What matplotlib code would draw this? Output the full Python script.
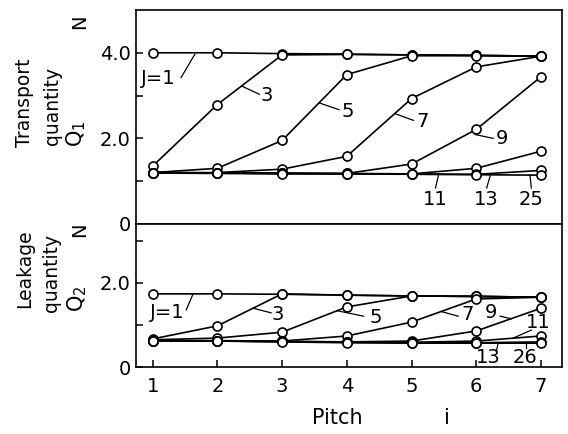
import matplotlib
matplotlib.use("Agg")
import matplotlib.pyplot as plt

plt.rcParams['font.family'] = ['DejaVu Sans']

pitch = [1, 2, 3, 4, 5, 6, 7]

# transport quantity Q1 (N) for each J
q1 = {
    '1':  [4.00, 4.00, 3.98, 3.97, 3.95, 3.94, 3.92],
    '3':  [1.35, 2.79, 3.95, 3.96, 3.95, 3.94, 3.92],
    '5':  [1.20, 1.30, 1.95, 3.49, 3.93, 3.93, 3.92],
    '7':  [1.20, 1.20, 1.28, 1.58, 2.93, 3.67, 3.92],
    '9':  [1.20, 1.19, 1.19, 1.18, 1.40, 2.21, 3.44],
    '11': [1.20, 1.19, 1.18, 1.18, 1.17, 1.30, 1.70],
    '13': [1.20, 1.19, 1.18, 1.17, 1.17, 1.16, 1.25],
    '25': [1.19, 1.18, 1.17, 1.17, 1.16, 1.15, 1.14],
}

# leakage quantity Q2 (N) for each J
q2 = {
    '1':  [1.74, 1.74, 1.73, 1.71, 1.69, 1.68, 1.66],
    '3':  [0.67, 0.98, 1.74, 1.71, 1.69, 1.68, 1.66],
    '5':  [0.65, 0.69, 0.83, 1.43, 1.69, 1.68, 1.66],
    '7':  [0.63, 0.63, 0.62, 0.74, 1.07, 1.62, 1.66],
    '9':  [0.63, 0.62, 0.61, 0.60, 0.62, 0.86, 1.40],
    '11': [0.63, 0.62, 0.61, 0.60, 0.59, 0.62, 0.74],
    '13': [0.63, 0.62, 0.61, 0.59, 0.58, 0.58, 0.60],
    '26': [0.63, 0.62, 0.60, 0.58, 0.57, 0.57, 0.57],
}

# label text, text position, leader start on curve, leader end near text
q1_labels = [
    ('J=1', (1.08, 3.40), (1.65, 3.96), (1.44, 3.42)),
    ('3',   (2.77, 3.00), (2.38, 3.22), (2.65, 3.03)),
    ('5',   (4.02, 2.63), (3.57, 2.83), (3.88, 2.67)),
    ('7',   (5.17, 2.40), (4.74, 2.58), (5.03, 2.42)),
    ('9',   (6.40, 2.00), (5.98, 2.09), (6.26, 2.00)),
    ('11',  (5.37, 0.58), (5.42, 1.17), (5.37, 0.84)),
    ('13',  (6.15, 0.58), (6.22, 1.15), (6.16, 0.84)),
    ('25',  (6.85, 0.58), (6.83, 1.14), (6.85, 0.84)),
]
q2_labels = [
    ('J=1', (1.22, 1.29), (1.62, 1.72), (1.52, 1.36)),
    ('3',   (2.94, 1.24), (2.55, 1.40), (2.83, 1.29)),
    ('5',   (4.44, 1.19), (3.85, 1.34), (4.26, 1.21)),
    ('7',   (5.87, 1.24), (5.46, 1.32), (5.72, 1.21)),
    ('9',   (6.23, 1.29), (6.54, 1.15), (6.37, 1.21)),
    ('11',  (6.96, 1.05), (6.57, 0.69), (6.85, 0.88)),
    ('13',  (6.18, 0.24), (6.34, 0.58), (6.31, 0.38)),
    ('26',  (6.75, 0.24), (6.77, 0.58), (6.77, 0.45)),
]

fig = plt.figure(figsize=(5.68, 4.34), dpi=100)
ax1 = fig.add_axes([0.239, 0.484, 0.75, 0.493])
ax2 = fig.add_axes([0.239, 0.154, 0.75, 0.330])

def draw(ax, data, labels):
    for key, vals in data.items():
        ax.plot(pitch, vals, color='black', lw=1.2, marker='o', ms=6.5,
                mfc='white', mec='black', mew=1.2)
    for txt, pos, a, b in labels:
        ax.plot([a[0], b[0]], [a[1], b[1]], color='black', lw=0.9)
        ax.text(pos[0], pos[1], txt, fontsize=14, ha='center', va='center')
    ax.set_xlim(0.74, 7.32)
    for s in ax.spines.values():
        s.set_linewidth(1.2)
    ax.tick_params(direction='in', labelsize=14, width=1.1, length=5)
    ax.tick_params(which='minor', direction='in', width=1.1, length=5)

draw(ax1, q1, q1_labels)
draw(ax2, q2, q2_labels)

ax1.set_ylim(0, 5.0)
ax1.set_yticks([0, 2.0, 4.0])
ax1.set_yticklabels(['0', '2.0', '4.0'])
ax1.set_yticks([1.0, 3.0], minor=True)
ax1.set_xticks([])

ax2.set_ylim(0, 3.4)
ax2.set_yticks([0, 2.0])
ax2.set_yticklabels(['0', '2.0'])
ax2.set_yticks([1.0, 3.0], minor=True)
ax2.set_xticks(pitch)
ax2.tick_params(axis='x', pad=7)

# y-axis titles, one rotated line each
ylab = dict(rotation=90, ha='center', va='bottom', fontsize=13.5)
fig.text(0.043, 0.661, 'Transport', **ylab)
fig.text(0.092, 0.666, 'quantity', **ylab)
fig.text(0.134, 0.661, '$\\mathregular{Q_1}$', rotation=90, ha='center', va='bottom', fontsize=15)
fig.text(0.043, 0.290, 'Leakage', **ylab)
fig.text(0.090, 0.281, 'quantity', **ylab)
fig.text(0.136, 0.281, '$\\mathregular{Q_2}$', rotation=90, ha='center', va='bottom', fontsize=15)
fig.text(0.141, 0.95, 'N', rotation=90, ha='center', va='center', fontsize=14)
fig.text(0.141, 0.47, 'N', rotation=90, ha='center', va='center', fontsize=14)
fig.text(0.593, 0.037, 'Pitch', ha='center', va='center', fontsize=15)
fig.text(0.787, 0.037, 'i', ha='center', va='center', fontsize=15)

fig.savefig('out.png', dpi=100)
